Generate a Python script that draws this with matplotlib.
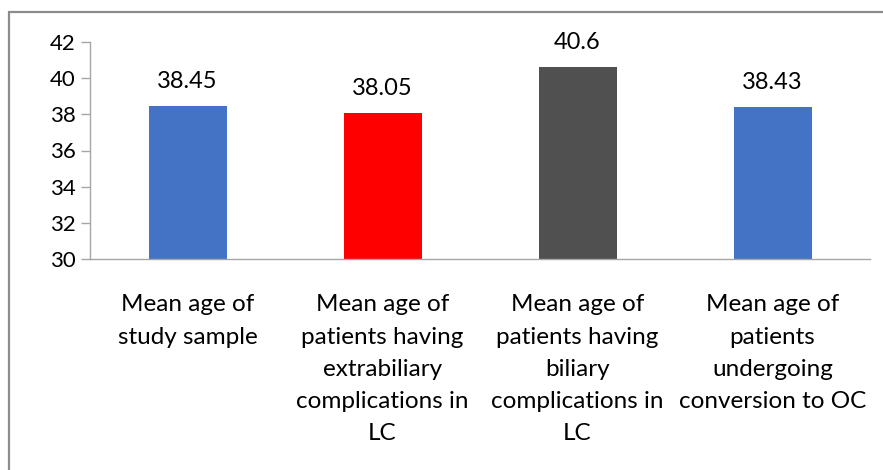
import matplotlib
matplotlib.use("Agg")
import matplotlib.pyplot as plt
from matplotlib.patches import Rectangle

categories = [
    "Mean age of\nstudy sample",
    "Mean age of\npatients having\nextrabiliary\ncomplications in\nLC",
    "Mean age of\npatients having\nbiliary\ncomplications in\nLC",
    "Mean age of\npatients\nundergoing\nconversion to OC",
]
values = [38.45, 38.05, 40.6, 38.43]
value_labels = ["38.45", "38.05", "40.6", "38.43"]
colors = ["#4472C4", "#FF0000", "#505050", "#4472C4"]
yticks = [30, 32, 34, 36, 38, 40, 42]

plt.rcParams['font.family'] = ['Lato', 'DejaVu Sans']

W, H = 883, 470
fig = plt.figure(figsize=(W / 100, H / 100), dpi=100)
ax = fig.add_axes([90 / W, (H - 259) / H, (870 - 90) / W, (259 - 42) / H])

x = list(range(len(values)))
ax.bar(x, [v - 30 for v in values], bottom=30, width=0.4, color=colors)
for xi, v, lab in zip(x, values, value_labels):
    ax.annotate(lab, (xi, v), xytext=(0, 13), textcoords="offset points",
                ha="center", va="baseline", fontsize=17, color="#000000")

ax.set_ylim(30, 42)
ax.set_xlim(-0.5, len(values) - 0.5)
ax.set_yticks(yticks)
ax.set_yticklabels([str(t) for t in yticks], fontsize=16)
ax.set_xticks(x)
ax.set_xticklabels(categories, fontsize=17.5, linespacing=1.66)
ax.tick_params(axis="x", length=0, pad=25.5)
ax.tick_params(axis="y", length=6.5, width=1, color="#A6A6A6", pad=4)
for s in ["top", "right"]:
    ax.spines[s].set_visible(False)
for s in ["left", "bottom"]:
    ax.spines[s].set_color("#A6A6A6")
    ax.spines[s].set_linewidth(1)

fig.patches.append(Rectangle((9 / W, -0.1), 1.2, (H - 12) / H + 0.1,
                             transform=fig.transFigure, fill=False,
                             edgecolor="#8C8C8C", linewidth=1.6))

fig.savefig("out.png", dpi=100)
